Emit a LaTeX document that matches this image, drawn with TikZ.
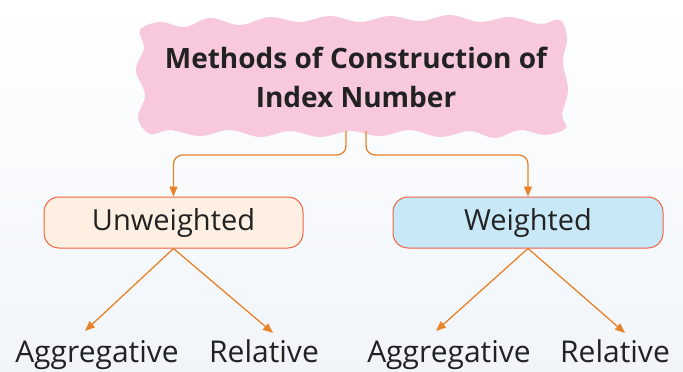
\documentclass[tikz,border=0pt]{standalone}
\usepackage{fontspec}
\setmainfont{Open Sans}
\usetikzlibrary{arrows.meta}
\definecolor{pinkblob}{HTML}{F8C8DD}
\definecolor{conn}{HTML}{E8832A}
\definecolor{boxedge}{HTML}{EE6440}
\definecolor{creamfill}{HTML}{FDF0E2}
\definecolor{bluefill}{HTML}{C8E8F8}
\definecolor{bgtop}{HTML}{FFFFFF}
\definecolor{bgbot}{HTML}{F1F5FA}
\definecolor{txt}{HTML}{222222}
\tikzset{
  connector/.style={draw=conn, line width=1.3pt, -{Triangle[length=10pt,width=8pt]}},
  catbox/.style={draw=boxedge, line width=1pt, rounded corners=15pt, minimum width=259pt, minimum height=51pt, inner sep=0pt, font=\fontsize{29}{32}\selectfont, text=txt},
  leaf/.style={font=\fontsize{30}{34}\selectfont, text=txt, inner sep=0pt, anchor=base},
  titletext/.style={text=txt, font=\bfseries\fontsize{28}{31}\selectfont, inner sep=0pt, anchor=base},
}
\begin{document}
\begin{tikzpicture}[x=1pt,y=-1pt]
\useasboundingbox (0,0) rectangle (683,372);
\shade[top color=bgtop, bottom color=bgbot] (0,0) rectangle (683,372);
% blob
\fill[pinkblob] plot[smooth cycle, tension=0.6] coordinates {
 (140,30)(160,22)(185,27)(210,18)(240,25)(270,17)(300,22)(330,16)(360,22)(390,16)(420,21)(450,15)(480,22)(510,17)(540,24)(560,20)
 (567,38)(563,62)(568,90)(562,115)(566,128)
 (545,135)(520,130)(495,138)(470,131)(440,137)(410,130)(380,136)(350,131)(320,137)(290,131)(260,137)(230,130)(200,136)(170,130)(150,134)
 (138,118)(145,95)(136,70)(144,48)};
\node[titletext] (title1) at (356,68) {Methods of Construction of};
\node[titletext] (title2) at (356,107) {Index Number};
\coordinate (tl) at (346,131);
\coordinate (tr) at (366,131);
\node[catbox, fill=creamfill] (unw) at (173.5,222.5) {Unweighted};
\node[catbox, fill=bluefill, minimum width=270pt] (wei) at (528,222.5) {Weighted};
\draw[connector, rounded corners=9pt] (tl) -- ++(0,24) -| (unw.north);
\draw[connector, rounded corners=9pt] (tr) -- ++(0,24) -| (wei.north);
\node[leaf] (agg1) at (97,362) {Aggregative};
\node[leaf] (rel1) at (264,362) {Relative};
\node[leaf] (agg2) at (449,362) {Aggregative};
\node[leaf] (rel2) at (615,362) {Relative};
\coordinate (a1) at (85,331);
\coordinate (r1) at (273,333);
\coordinate (a2) at (436,331);
\coordinate (r2) at (625,333);
\draw[connector] (unw.south) -- (a1);
\draw[connector] (unw.south) -- (r1);
\draw[connector] (wei.south) -- (a2);
\draw[connector] (wei.south) -- (r2);
\end{tikzpicture}
\end{document}
